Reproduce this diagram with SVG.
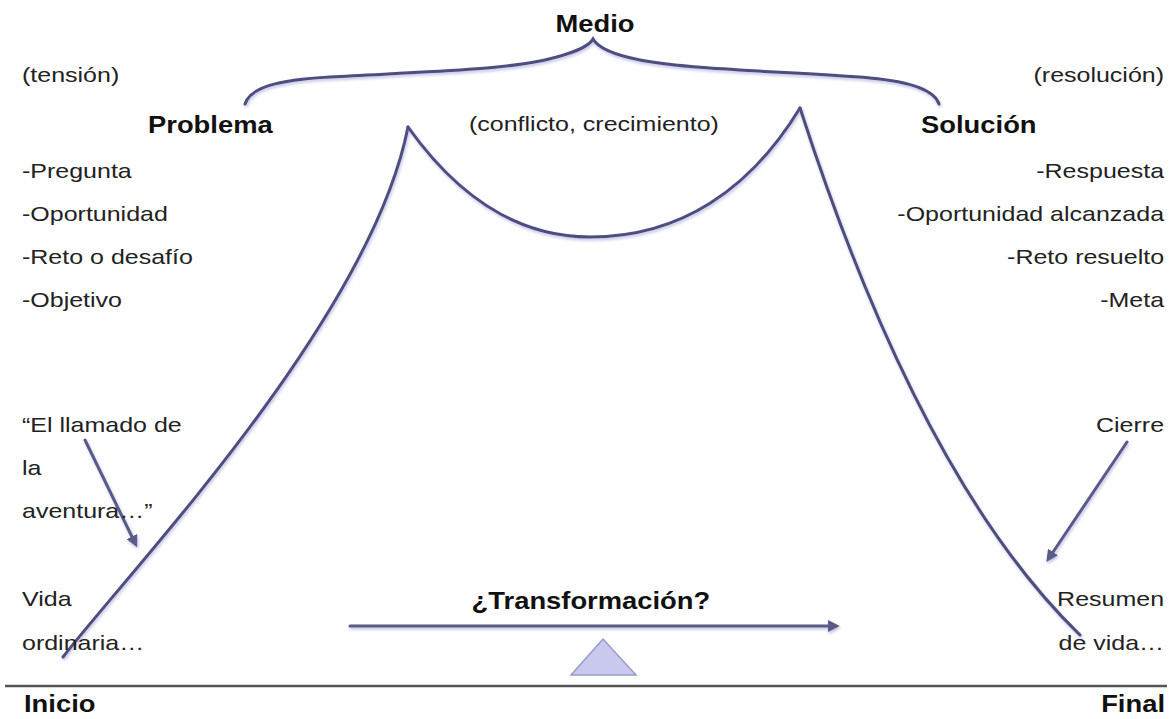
<svg xmlns="http://www.w3.org/2000/svg" width="1172" height="719" viewBox="0 0 1172 719">
  <defs>
    <style>
      .txt { font-family: "Liberation Sans", Arial, sans-serif; font-size: 21px; fill: #222; }
      .bold { font-family: "Liberation Sans", Arial, sans-serif; font-size: 23px; font-weight: bold; fill: #111; }
      .end { text-anchor: end; }
      .mid { text-anchor: middle; }
      .curve { fill: none; stroke: #4d4d7e; stroke-width: 3; stroke-linecap: round; stroke-linejoin: miter; filter: url(#glow); }
      .arrow { fill: none; stroke: #5a5a86; stroke-width: 3; stroke-linecap: round; marker-end: url(#head); filter: url(#glow); }
    </style>
    <filter id="glow" filterUnits="userSpaceOnUse" x="0" y="0" width="1172" height="719">
      <feDropShadow dx="1" dy="2" stdDeviation="1.6" flood-color="#8c8cd0" flood-opacity="0.55"/>
    </filter>
    <marker id="head" viewBox="0 0 10 10" refX="6" refY="5" markerWidth="4" markerHeight="4" orient="auto" markerUnits="strokeWidth">
      <path d="M0,0 L10,5 L0,10 z" fill="#5a5a86"/>
    </marker>
  </defs>

  <rect width="1172" height="719" fill="#ffffff"/>

  <!-- base line -->
  <g id="baseline">
    <line x1="5" y1="686" x2="1167" y2="686" stroke="#555" stroke-width="2.5"/>
  </g>

  <!-- connectors: brace, story curve, pointer arrows -->
  <g id="connectors">
    <path id="brace" class="curve" d="M245,104 C250,88 275,80 330,77 C420,72 500,70 545,60 C570,54 588,48 593,39 C598,48 615,55 640,60 C690,70 800,72 870,78 C915,82 935,92 939,104"/>
    <path id="arc-rise" class="curve" d="M63,657 C130,570 370,320 408,127"/>
    <path id="arc-valley" class="curve" d="M408,127 C460,200 520,237 590,237 C680,237 750,190 800,108"/>
    <path id="arc-fall" class="curve" d="M800,108 Q920,480 1080,635"/>
    <path id="arrow-call" class="arrow" d="M85,440 L135,543"/>
    <path id="arrow-close" class="arrow" d="M1127,442 L1049,558"/>
    <path id="arrow-transform" class="arrow" d="M350,626 L835,626"/>
  </g>

  <!-- fulcrum -->
  <g id="fulcrum">
    <polygon points="603,639 571,675 636,675" fill="#c9c9ef" stroke="#9a9ac4" stroke-width="1.5"/>
  </g>

  <!-- labels (glyphs widened horizontally) -->
  <g transform="scale(1.19,1)">
    <g id="medio"><text class="bold mid" x="500" y="32">Medio</text></g>
    <g id="tension"><text class="txt" x="18.5" y="82">(tensión)</text></g>
    <g id="resolucion"><text class="txt end" x="978.2" y="82">(resolución)</text></g>
    <g id="problema"><text class="bold" x="124.4" y="133">Problema</text></g>
    <g id="conflicto"><text class="txt" x="394.1" y="131">(conflicto, crecimiento)</text></g>
    <g id="solucion"><text class="bold" x="774" y="133">Solución</text></g>

    <g id="problema-list">
      <text class="txt" x="18.5" y="178">-Pregunta</text>
      <text class="txt" x="18.5" y="221">-Oportunidad</text>
      <text class="txt" x="18.5" y="264">-Reto o desafío</text>
      <text class="txt" x="18.5" y="307">-Objetivo</text>
    </g>
    <g id="solucion-list">
      <text class="txt end" x="978.2" y="178">-Respuesta</text>
      <text class="txt end" x="978.2" y="221">-Oportunidad alcanzada</text>
      <text class="txt end" x="978.2" y="264">-Reto resuelto</text>
      <text class="txt end" x="978.2" y="307">-Meta</text>
    </g>

    <g id="llamado">
      <text class="txt" x="18.5" y="432">“El llamado de</text>
      <text class="txt" x="18.5" y="475">la</text>
      <text class="txt" x="18.5" y="518">aventura…”</text>
    </g>
    <g id="cierre"><text class="txt end" x="978.2" y="432">Cierre</text></g>

    <g id="vida">
      <text class="txt" x="18.5" y="606">Vida</text>
      <text class="txt" x="18.5" y="650">ordinaria…</text>
    </g>
    <g id="resumen">
      <text class="txt end" x="978.2" y="606">Resumen</text>
      <text class="txt end" x="978.2" y="650">de vida…</text>
    </g>

    <g id="transformacion"><text class="bold mid" x="496.6" y="609">¿Transformación?</text></g>
    <g id="inicio"><text class="bold" x="20.2" y="712">Inicio</text></g>
    <g id="final"><text class="bold end" x="979" y="712">Final</text></g>
  </g>
</svg>
